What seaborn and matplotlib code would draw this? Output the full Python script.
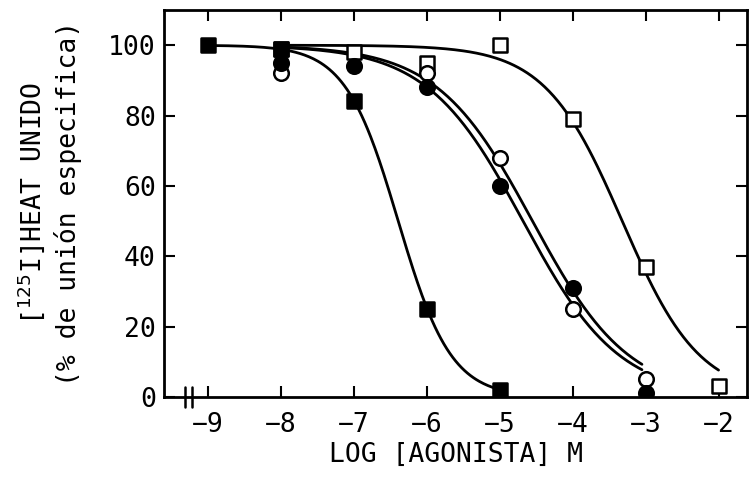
import numpy as np
import pandas as pd
import matplotlib
matplotlib.use("Agg")
import matplotlib.pyplot as plt
import matplotlib.transforms as mtransforms
import seaborn as sns

# Datos: log [agonista] M vs % de union especifica
log_filled_square = [-9, -8, -7, -6, -5]
pct_filled_square = [100, 99, 84, 25, 2]

log_open_square = [-8, -7, -6, -5, -4, -3, -2]
pct_open_square = [99, 98, 95, 100, 79, 37, 3]

log_filled_circle = [-8, -7, -6, -5, -4, -3]
pct_filled_circle = [95, 94, 88, 60, 31, 1]

log_open_circle = [-8, -6, -5, -4, -3]
pct_open_circle = [92, 92, 68, 25, 5]

# Curvas ajustadas (log IC50, pendiente de Hill, rango en x)
hill_filled_square = (-6.39, 1.2, -9.0, -5.0)
hill_open_square = (-3.32, 0.82, -8.0, -2.0)
hill_filled_circle = (-4.68, 0.66, -8.0, -3.05)
hill_open_circle = (-4.55, 0.66, -8.0, -3.05)

x_ticks = [-9, -8, -7, -6, -5, -4, -3, -2]
y_ticks = [0, 20, 40, 60, 80, 100]

sns.set_style("ticks")
plt.rcParams["font.family"] = ["DejaVu Sans Mono", "DejaVu Sans"]
plt.rcParams["text.color"] = "black"
plt.rcParams["axes.labelcolor"] = "black"
plt.rcParams["xtick.color"] = "black"
plt.rcParams["ytick.color"] = "black"
plt.rcParams["axes.edgecolor"] = "black"

fig = plt.figure(figsize=(7.51, 4.78), dpi=100)
ax = fig.add_axes([0.2184, 0.1695, 0.9947 - 0.2184, 0.979 - 0.1695])


def hill(params):
    c, n, x0, x1 = params
    x = np.linspace(x0, x1, 200)
    y = 100 / (1 + 10 ** (n * (x - c)))
    return pd.DataFrame({"x": x, "y": y})


for p in [hill_filled_square, hill_open_square, hill_filled_circle, hill_open_circle]:
    d = hill(p)
    sns.lineplot(data=d, x="x", y="y", ax=ax, color="black", lw=2, sort=False, zorder=2)

series = [
    (log_open_square, pct_open_square, "s", "white"),
    (log_open_circle, pct_open_circle, "o", "white"),
    (log_filled_circle, pct_filled_circle, "o", "black"),
    (log_filled_square, pct_filled_square, "s", "black"),
]
for xs, ys, m, fc in series:
    sns.scatterplot(x=xs, y=ys, ax=ax, marker=m, s=110, facecolor=fc,
                    edgecolor="black", linewidth=1.8, zorder=3)

ax.set_xlim(-9.6, -1.61)
ax.set_ylim(0, 110)
ax.set_xticks(x_ticks)
ax.set_xticklabels([f"\u2212{abs(v)}" for v in x_ticks])
ax.set_yticks(y_ticks)
ax.tick_params(direction="in", length=8, width=1.5, top=True, right=True,
               labelsize=19)
ax.tick_params(axis="x", pad=11)
ax.tick_params(axis="y", pad=6)
for s in ax.spines.values():
    s.set_linewidth(2)

# marca de corte del eje x
trans = mtransforms.blended_transform_factory(ax.transData, ax.transAxes)
for xb in [-9.31, -9.22]:
    ax.plot([xb, xb], [-0.025, 0.025], color="black", lw=1.8, transform=trans,
            clip_on=False, zorder=4)

ax.set_xlabel("LOG [AGONISTA] M", fontsize=19, labelpad=3)
ax.set_ylabel("[$^{125}$I]HEAT UNIDO\n(% de unión especifica)", fontsize=19,
              labelpad=19, linespacing=1.3)

fig.savefig("out.png", dpi=100)
